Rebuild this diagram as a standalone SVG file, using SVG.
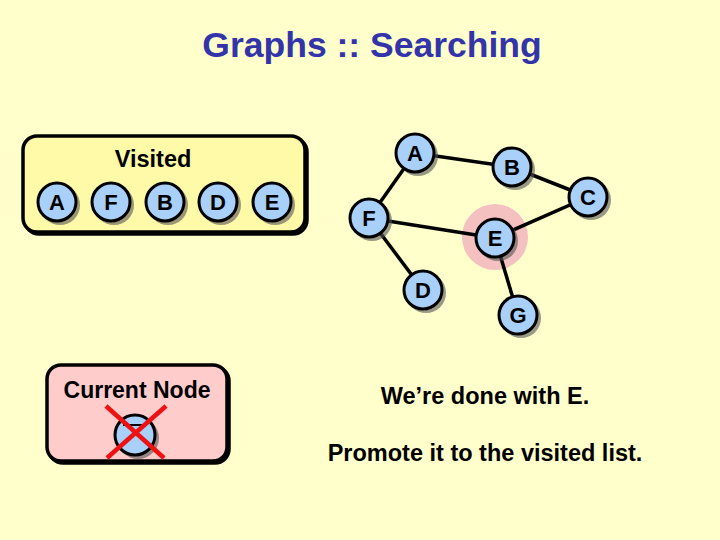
<svg xmlns="http://www.w3.org/2000/svg" width="720" height="540" viewBox="0 0 720 540">
<defs>
<style>
.lbl{font-family:"Liberation Sans",Arial,sans-serif;font-weight:bold;font-size:23.5px;fill:#000;text-anchor:middle}
.nd{fill:#a8d0f8;stroke:#000;stroke-width:3}
.sh{fill:#555;opacity:0.6}
.edge{stroke:#000;stroke-width:3.5;fill:none}
.nl{font-family:"Liberation Sans",Arial,sans-serif;font-weight:bold;font-size:22px;fill:#000;text-anchor:middle}
</style>
</defs>
<rect width="720" height="540" fill="#ffffcc"/>
<text x="372" y="57" font-family="Liberation Sans,Arial,sans-serif" font-weight="bold" font-size="35.5" fill="#3333aa" text-anchor="middle">Graphs :: Searching</text>

<g id="visited">
<rect x="25" y="138" width="282" height="96" rx="14" fill="#fff9b0" stroke="#000" stroke-width="3.5"/>
<rect x="23" y="136" width="282" height="96" rx="14" fill="#fffaa8" stroke="#000" stroke-width="3.5"/>
<text class="lbl" x="153" y="167">Visited</text>
<g id="v-A"><circle class="sh" cx="60" cy="205" r="20"/><circle class="nd" cx="57" cy="202" r="19"/><text class="nl" x="57" y="210">A</text></g>
<g id="v-F"><circle class="sh" cx="114" cy="205" r="20"/><circle class="nd" cx="111" cy="202" r="19"/><text class="nl" x="111" y="210">F</text></g>
<g id="v-B"><circle class="sh" cx="168" cy="205" r="20"/><circle class="nd" cx="165" cy="202" r="19"/><text class="nl" x="165" y="210">B</text></g>
<g id="v-D"><circle class="sh" cx="221" cy="205" r="20"/><circle class="nd" cx="218" cy="202" r="19"/><text class="nl" x="218" y="210">D</text></g>
<g id="v-E"><circle class="sh" cx="275" cy="205" r="20"/><circle class="nd" cx="272" cy="202" r="19"/><text class="nl" x="272" y="210">E</text></g>
</g>

<circle cx="495" cy="237" r="33" fill="#f4c0c0"/>

<g id="connectors">
<line class="edge" x1="415" y1="153" x2="512" y2="167"/>
<line class="edge" x1="415" y1="153" x2="369" y2="218"/>
<line class="edge" x1="512" y1="167" x2="588" y2="197"/>
<line class="edge" x1="588" y1="197" x2="495" y2="238"/>
<line class="edge" x1="369" y1="218" x2="495" y2="238"/>
<line class="edge" x1="369" y1="218" x2="423" y2="290"/>
<line class="edge" x1="495" y1="238" x2="518" y2="315"/>
</g>

<g id="node-A"><circle class="sh" cx="418" cy="156" r="20"/><circle class="nd" cx="415" cy="153" r="19"/><text class="nl" x="415" y="161">A</text></g>
<g id="node-B"><circle class="sh" cx="515" cy="170" r="20"/><circle class="nd" cx="512" cy="167" r="19"/><text class="nl" x="512" y="175">B</text></g>
<g id="node-C"><circle class="sh" cx="591" cy="200" r="20"/><circle class="nd" cx="588" cy="197" r="19"/><text class="nl" x="588" y="205">C</text></g>
<g id="node-F"><circle class="sh" cx="372" cy="221" r="20"/><circle class="nd" cx="369" cy="218" r="19"/><text class="nl" x="369" y="226">F</text></g>
<g id="node-E"><circle class="sh" cx="498" cy="241" r="20"/><circle class="nd" cx="495" cy="238" r="19"/><text class="nl" x="495" y="246">E</text></g>
<g id="node-D"><circle class="sh" cx="426" cy="293" r="20"/><circle class="nd" cx="423" cy="290" r="19"/><text class="nl" x="423" y="298">D</text></g>
<g id="node-G"><circle class="sh" cx="521" cy="318" r="20"/><circle class="nd" cx="518" cy="315" r="19"/><text class="nl" x="518" y="323">G</text></g>

<g id="current">
<rect x="49" y="367" width="180" height="96" rx="14" fill="#f0b8b8" stroke="#000" stroke-width="3.5"/>
<rect x="47" y="365" width="180" height="96" rx="14" fill="#ffcccc" stroke="#000" stroke-width="3.5"/>
<text x="137" y="398" font-family="Liberation Sans,Arial,sans-serif" font-weight="bold" font-size="23" fill="#000" text-anchor="middle">Current Node</text>
<circle class="sh" cx="138" cy="438" r="21"/>
<circle class="nd" cx="135" cy="435" r="20"/>
<line x1="123" y1="425" x2="147" y2="425" stroke="#000" stroke-width="2"/>
<line x1="106" y1="406" x2="164" y2="458" stroke="#ee1111" stroke-width="4.5"/>
<line x1="166" y1="406" x2="107" y2="458" stroke="#ee1111" stroke-width="4.5"/>
</g>

<text class="lbl" x="485" y="404">We’re done with E.</text>
<text class="lbl" x="485" y="461">Promote it to the visited list.</text>
</svg>
